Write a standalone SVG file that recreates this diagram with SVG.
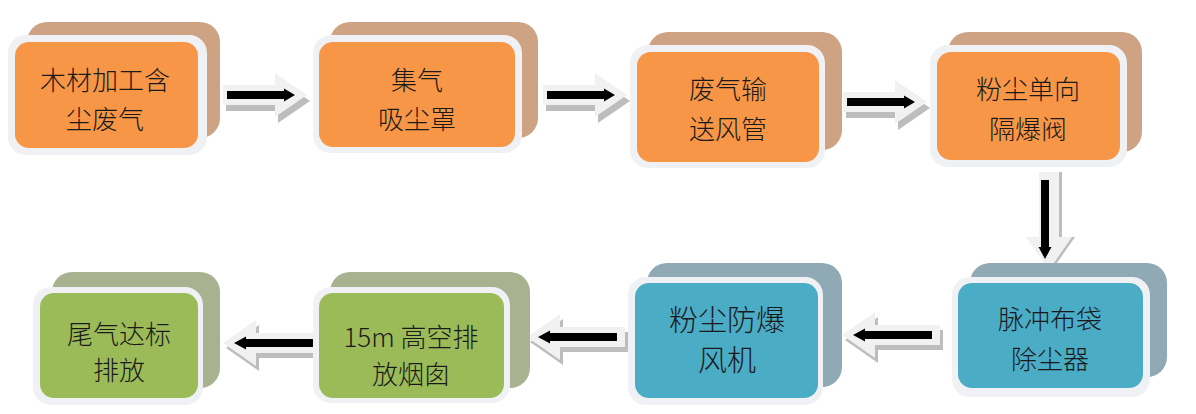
<svg xmlns="http://www.w3.org/2000/svg" width="1196" height="414" viewBox="0 0 1196 414">
<style>
.bk-o{fill:#CDA384}
.bk-b{fill:#8FAAB4}
.bk-g{fill:#A8B190}
.wb{fill:#EFF1F4}
.or{fill:#F79646}
.bl{fill:#4BACC6}
.gr{fill:#9BBB59}
.t{font-family:"Noto Sans CJK SC","Liberation Sans",sans-serif;font-size:26px;font-weight:300;fill:#1a1a1a;text-anchor:middle;dominant-baseline:central}
.light{fill:#F1F1F1}
.shadow{fill:#BDBDBD}
.blk{fill:#000}
</style>
<defs>
<path id="sa" d="M0,-10 H52 V-22 L84,0 L52,22 V10 H0 Z"/>
<path id="sb" d="M4,-4 H61 V-6.5 L72,0 L61,6.5 V4 H4 Z"/>
<path id="la" d="M0,-10 H65 V-23 L98,0 L65,23 V10 H0 Z"/>
<path id="lb" d="M8,-4 H75 V-6.5 L87,0 L75,6.5 V4 H8 Z"/>
</defs>
<g id="connectors">
  <g transform="translate(223,95)"><use href="#sa" class="shadow" transform="translate(3,6)"/><use href="#sa" class="light"/><use href="#sb" class="blk"/></g>
  <g transform="translate(543,95)"><use href="#sa" class="shadow" transform="translate(3,6)"/><use href="#sa" class="light"/><use href="#sb" class="blk"/></g>
  <g transform="translate(843,102)"><use href="#sa" class="shadow" transform="translate(3,6)"/><use href="#sa" class="light"/><use href="#sb" class="blk"/></g>
  <g transform="translate(1049,172)"><use href="#la" class="shadow" transform="translate(3,0) rotate(90)"/><use href="#la" class="light" transform="rotate(90)"/><use href="#lb" class="blk" transform="translate(-4,0) rotate(90)"/></g>
  <g><use href="#la" class="shadow" transform="translate(943,340) scale(-1,1)"/><use href="#la" class="light" transform="translate(940,335) scale(-1,1)"/><use href="#lb" class="blk" transform="translate(940,335) scale(-1,1)"/></g>
  <g><use href="#la" class="shadow" transform="translate(628,342) scale(-1,1)"/><use href="#la" class="light" transform="translate(625,337) scale(-1,1)"/><use href="#lb" class="blk" transform="translate(625,337) scale(-1,1)"/></g>
  <g><use href="#la" class="shadow" transform="translate(324,348) scale(-1,1)"/><use href="#la" class="light" transform="translate(321,343) scale(-1,1)"/><use href="#lb" class="blk" transform="translate(321,343) scale(-1,1)"/></g>
</g>
<g id="n1">
  <rect class="bk-o" x="27" y="22" width="193" height="116" rx="20"/>
  <rect class="wb" x="8" y="35" width="199" height="120" rx="18"/>
  <rect class="or" x="15" y="42" width="183" height="106" rx="14"/>
  <text class="t" x="105" y="78">木材加工含</text>
  <text class="t" x="105" y="117">尘废气</text>
</g>
<g id="n2">
  <rect class="bk-o" x="330" y="22" width="208" height="116" rx="20"/>
  <rect class="wb" x="313" y="35" width="209" height="118" rx="18"/>
  <rect class="or" x="319" y="42" width="196" height="105" rx="14"/>
  <text class="t" x="417" y="78">集气</text>
  <text class="t" x="417" y="117">吸尘罩</text>
</g>
<g id="n3">
  <rect class="bk-o" x="648" y="32" width="194" height="118" rx="20"/>
  <rect class="wb" x="630" y="45" width="195" height="123" rx="18"/>
  <rect class="or" x="637" y="52" width="182" height="110" rx="14"/>
  <text class="t" x="728" y="87">废气输</text>
  <text class="t" x="728" y="127">送风管</text>
</g>
<g id="n4">
  <rect class="bk-o" x="948" y="32" width="194" height="120" rx="20"/>
  <rect class="wb" x="930" y="45" width="197" height="122" rx="18"/>
  <rect class="or" x="937" y="52" width="183" height="108" rx="14"/>
  <text class="t" x="1028" y="87">粉尘单向</text>
  <text class="t" x="1028" y="127">隔爆阀</text>
</g>
<g id="n5">
  <rect class="bk-b" x="970" y="263" width="197" height="114" rx="20"/>
  <rect class="wb" x="952" y="277" width="198" height="120" rx="18"/>
  <rect class="bl" x="958" y="283" width="185" height="105" rx="14"/>
  <text class="t" x="1050" y="317">脉冲布袋</text>
  <text class="t" x="1050" y="357">除尘器</text>
</g>
<g id="n6">
  <rect class="bk-b" x="647" y="263" width="195" height="124" rx="20"/>
  <rect class="wb" x="628" y="277" width="195" height="128" rx="18"/>
  <rect class="bl" x="635" y="283" width="183" height="115" rx="14"/>
  <text class="t" x="727" y="318" style="font-size:29px">粉尘防爆</text>
  <text class="t" x="727" y="358" style="font-size:29px">风机</text>
</g>
<g id="n7">
  <rect class="bk-g" x="330" y="272" width="200" height="116" rx="20"/>
  <rect class="wb" x="313" y="287" width="197" height="116" rx="18"/>
  <rect class="gr" x="319" y="293" width="185" height="105" rx="14"/>
  <text class="t" x="411" y="335">15m 高空排</text>
  <text class="t" x="411" y="372">放烟囱</text>
</g>
<g id="n8">
  <rect class="bk-g" x="52" y="272" width="168" height="116" rx="20"/>
  <rect class="wb" x="33" y="287" width="170" height="118" rx="18"/>
  <rect class="gr" x="40" y="293" width="158" height="105" rx="14"/>
  <text class="t" x="119" y="332">尾气达标</text>
  <text class="t" x="119" y="368">排放</text>
</g>
</svg>
